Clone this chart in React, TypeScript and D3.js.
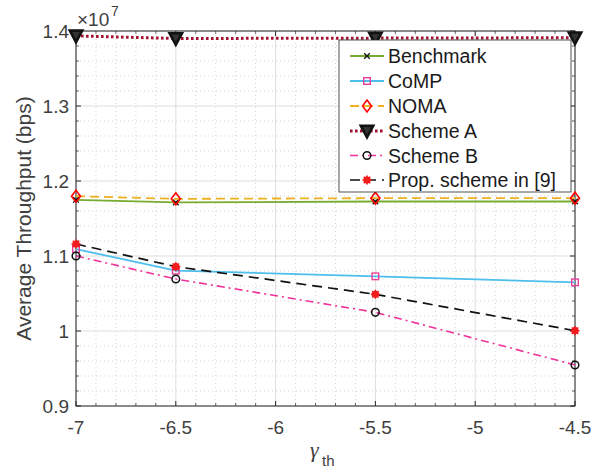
import React from "react";
import * as d3 from "d3";

// x values: gamma_th
const gammaTh = [-7, -6.5, -5.5, -4.5];
// throughput values in units of 1e7 bps
const benchmark = [1.1749, 1.1714, 1.1727, 1.1727];
const comp = [1.1093, 1.0804, 1.0729, 1.0649];
const noma = [1.1797, 1.1762, 1.1771, 1.1771];
const schemeA = [1.3935, 1.3900, 1.3905, 1.3910];
const schemeB = [1.1, 1.0693, 1.0249, 0.9547];
const propScheme = [1.116, 1.0858, 1.0489, 1.0004];

const seriesNames = ["Benchmark", "CoMP", "NOMA", "Scheme A", "Scheme B", "Prop. scheme in [9]"];
const xTicks = [-7, -6.5, -6, -5.5, -5, -4.5];
const xTickLabels = ["-7", "-6.5", "-6", "-5.5", "-5", "-4.5"];
const yTicks = [0.9, 1.0, 1.1, 1.2, 1.3, 1.4];
const yTickLabels = ["0.9", "1", "1.1", "1.2", "1.3", "1.4"];

const W = 603, H = 470;
const L = 76, R = 575, T = 31, B = 406;
const FONT = "'Liberation Sans', Arial, Helvetica, sans-serif";

type Style = {
  color: string; width: number; dash?: string;
  marker: string; mColor: string;
};
const styles: Style[] = [
  { color: "#77AC30", width: 1.8, marker: "x", mColor: "#111" },
  { color: "#4DBEEE", width: 1.8, marker: "square", mColor: "#E8409A" },
  { color: "#EDB120", width: 1.8, dash: "9,5", marker: "diamond", mColor: "#FF0000" },
  { color: "#A2142F", width: 3, dash: "2.6,2.4", marker: "triangle", mColor: "#111" },
  { color: "#F0329A", width: 1.6, dash: "8,4,2,4", marker: "circle", mColor: "#111" },
  { color: "#111", width: 1.7, dash: "10,6", marker: "star", mColor: "#F21C1C" },
];
const allData = [benchmark, comp, noma, schemeA, schemeB, propScheme];

function Marker({ type, x, y, c }: { type: string; x: number; y: number; c: string }) {
  switch (type) {
    case "x":
      return <path d={`M${x - 2.8},${y - 2.8}L${x + 2.8},${y + 2.8}M${x - 2.8},${y + 2.8}L${x + 2.8},${y - 2.8}`} stroke={c} strokeWidth={1.3} />;
    case "square":
      return <rect x={x - 3.3} y={y - 3.3} width={6.6} height={6.6} fill="none" stroke={c} strokeWidth={1.4} />;
    case "diamond":
      return <path d={`M${x},${y - 6}L${x + 4.5},${y}L${x},${y + 6}L${x - 4.5},${y}Z`} fill="none" stroke={c} strokeWidth={1.6} />;
    case "triangle":
      return <path d={`M${x - 6.2},${y - 5.3}L${x + 6.2},${y - 5.3}L${x},${y + 6.3}Z`} fill="#333" stroke={c} strokeWidth={2.6} strokeLinejoin="miter" />;
    case "circle":
      return <circle cx={x} cy={y} r={3.8} fill="none" stroke={c} strokeWidth={1.5} />;
    case "star":
      return (
        <g>
          <circle cx={x} cy={y} r={3.6} fill={c} />
          <path d={`M${x - 4.5},${y}L${x + 4.5},${y}M${x},${y - 4.5}L${x},${y + 4.5}M${x - 3.2},${y - 3.2}L${x + 3.2},${y + 3.2}M${x - 3.2},${y + 3.2}L${x + 3.2},${y - 3.2}`} stroke={c} strokeWidth={1.6} />
        </g>
      );
  }
  return null;
}

export default function App() {
  const x = d3.scaleLinear().domain([-7, -4.5]).range([L, R]);
  const y = d3.scaleLinear().domain([0.9, 1.4]).range([B, T]);
  const line = d3.line<number>().x((_, i) => x(gammaTh[i])).y((d) => y(d));

  const minorX = d3.range(-7, -4.5 + 1e-9, 0.1).filter((v) => Math.abs(v * 2 - Math.round(v * 2)) > 1e-6);
  const minorY = d3.range(0.9, 1.4 + 1e-9, 0.02).filter((v) => Math.abs(v * 10 - Math.round(v * 10)) > 1e-6);

  const axisColor = "#262626";
  const legX = 339, legY = 40, legW = 232, legH = 152;
  const rowY = [56, 81, 106, 131, 155.5, 180];

  return (
    <svg width={W} height={H} style={{ position: "absolute", left: 0, top: 0, background: "#fff" }} fontFamily={FONT}>
      <rect x={0} y={0} width={W} height={H} fill="#fff" />
      {/* minor grid */}
      {minorX.map((v, i) => (
        <line key={"mx" + i} x1={x(v)} x2={x(v)} y1={T} y2={B} stroke="#c4c4c4" strokeWidth={0.7} strokeDasharray="1,3" />
      ))}
      {minorY.map((v, i) => (
        <line key={"my" + i} x1={L} x2={R} y1={y(v)} y2={y(v)} stroke="#c4c4c4" strokeWidth={0.7} strokeDasharray="1,3" />
      ))}
      {/* major grid */}
      {xTicks.map((v, i) => (
        <line key={"gx" + i} x1={x(v)} x2={x(v)} y1={T} y2={B} stroke="#dedede" strokeWidth={1} />
      ))}
      {yTicks.map((v, i) => (
        <line key={"gy" + i} x1={L} x2={R} y1={y(v)} y2={y(v)} stroke="#dedede" strokeWidth={1} />
      ))}
      {/* axes box */}
      <rect x={L} y={T} width={R - L} height={B - T} fill="none" stroke={axisColor} strokeWidth={1} />
      {/* ticks */}
      {xTicks.map((v, i) => (
        <g key={"tx" + i}>
          <line x1={x(v)} x2={x(v)} y1={B} y2={B - 5} stroke={axisColor} />
          <line x1={x(v)} x2={x(v)} y1={T} y2={T + 5} stroke={axisColor} />
        </g>
      ))}
      {minorX.map((v, i) => (
        <g key={"tmx" + i}>
          <line x1={x(v)} x2={x(v)} y1={B} y2={B - 3} stroke={axisColor} strokeWidth={0.7} />
          <line x1={x(v)} x2={x(v)} y1={T} y2={T + 3} stroke={axisColor} strokeWidth={0.7} />
        </g>
      ))}
      {yTicks.map((v, i) => (
        <g key={"ty" + i}>
          <line x1={L} x2={L + 5} y1={y(v)} y2={y(v)} stroke={axisColor} />
          <line x1={R} x2={R - 5} y1={y(v)} y2={y(v)} stroke={axisColor} />
        </g>
      ))}
      {minorY.map((v, i) => (
        <g key={"tmy" + i}>
          <line x1={L} x2={L + 3} y1={y(v)} y2={y(v)} stroke={axisColor} strokeWidth={0.7} />
          <line x1={R} x2={R - 3} y1={y(v)} y2={y(v)} stroke={axisColor} strokeWidth={0.7} />
        </g>
      ))}
      {/* tick labels */}
      {xTicks.map((v, i) => (
        <text key={"lx" + i} x={x(v)} y={434} textAnchor="middle" fontSize={19} fill="#404040">{xTickLabels[i]}</text>
      ))}
      {yTicks.map((v, i) => (
        <text key={"ly" + i} x={69} y={y(v) + 6.8} textAnchor="end" fontSize={19} fill="#404040">{yTickLabels[i]}</text>
      ))}
      {/* exponent */}
      <text x={77} y={26} fontSize={19} fill="#404040">×10</text>
      <text x={111} y={16} fontSize={14} fill="#404040">7</text>
      {/* axis labels */}
      <text transform={`translate(31,${(T + B) / 2}) rotate(-90)`} textAnchor="middle" fontSize={21} fill="#404040">Average Throughput (bps)</text>
      <text x={310} y={457} fontSize={22} fontStyle="italic" fontFamily="'Liberation Serif', 'DejaVu Serif', serif" fill="#404040">γ</text>
      <text x={322} y={466} fontSize={15} fill="#404040">th</text>
      {/* series */}
      {allData.map((d, si) => {
        const s = styles[si];
        return (
          <g key={"s" + si}>
            <path d={line(d) || ""} fill="none" stroke={s.color} strokeWidth={s.width} strokeDasharray={s.dash} />
            {d.map((v, i) => (
              <Marker key={i} type={s.marker} x={x(gammaTh[i])} y={y(v)} c={s.mColor} />
            ))}
          </g>
        );
      })}
      {/* legend */}
      <rect x={legX} y={legY} width={legW} height={legH} fill="#fff" stroke={axisColor} strokeWidth={0.8} />
      {seriesNames.map((n, i) => {
        const s = styles[i];
        const ry = rowY[i];
        return (
          <g key={"leg" + i}>
            <line x1={350} x2={384} y1={ry} y2={ry} stroke={s.color} strokeWidth={s.width} strokeDasharray={s.dash} />
            <Marker type={s.marker} x={367} y={ry} c={s.mColor} />
            <text x={388} y={ry + 7} fontSize={19.5} fill="#1a1a1a">{n}</text>
          </g>
        );
      })}
    </svg>
  );
}
